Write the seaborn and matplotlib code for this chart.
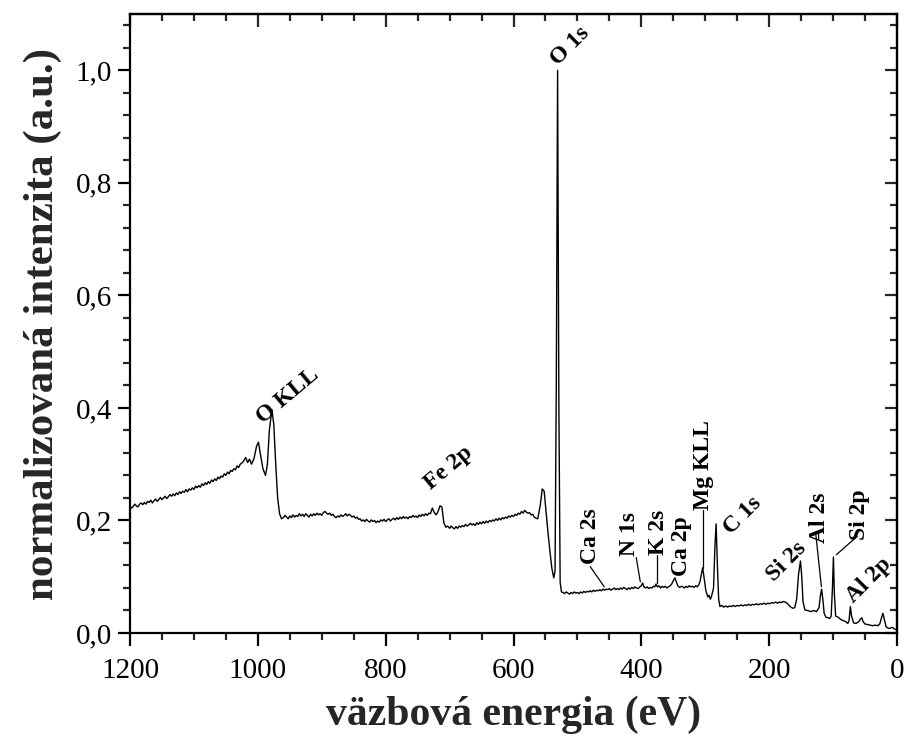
import matplotlib
matplotlib.use("Agg")
import matplotlib.pyplot as plt
import seaborn as sns
import pandas as pd
from matplotlib.ticker import MultipleLocator, FuncFormatter

# ---- data: (binding energy eV, normalized intensity) ----
seg_okll = [
    (1200, 0.226), (1197.5, 0.222), (1195, 0.225), (1192.5, 0.229), (1190, 0.226),
    (1187.5, 0.224), (1185, 0.229), (1182.5, 0.231), (1180, 0.228), (1177.5, 0.232),
    (1175, 0.229), (1172.5, 0.234), (1170, 0.232), (1167.5, 0.236), (1165, 0.231),
    (1162.5, 0.235), (1160, 0.238), (1157.5, 0.234), (1155, 0.237), (1152.5, 0.241),
    (1150, 0.237), (1147.5, 0.240), (1145, 0.243), (1142.5, 0.239), (1140, 0.242),
    (1137.5, 0.246), (1135, 0.243), (1132.5, 0.247), (1130, 0.244), (1127.5, 0.249),
    (1125, 0.246), (1122.5, 0.251), (1120, 0.248), (1117.5, 0.252), (1115, 0.250),
    (1112.5, 0.255), (1110, 0.251), (1107.5, 0.256), (1105, 0.254), (1102.5, 0.258),
    (1100, 0.255), (1097.5, 0.261), (1095, 0.258), (1092.5, 0.262), (1090, 0.259),
    (1087.5, 0.265), (1085, 0.262), (1082.5, 0.267), (1080, 0.264), (1077.5, 0.269),
    (1075, 0.266), (1072.5, 0.272), (1070, 0.269), (1067.5, 0.274), (1065, 0.271),
    (1062.5, 0.277), (1060, 0.274), (1057.5, 0.279), (1055, 0.277), (1052.5, 0.283),
    (1050, 0.280), (1047.5, 0.286), (1045, 0.283), (1042.5, 0.289), (1040, 0.287),
    (1037.5, 0.292), (1035, 0.290), (1032.5, 0.297), (1030, 0.294), (1027.5, 0.300),
    (1025, 0.302), (1022, 0.306), (1019, 0.312), (1016, 0.303), (1013, 0.309),
    (1010, 0.300), (1006, 0.310), (1002, 0.332), (999, 0.339), (996, 0.318),
    (992, 0.292), (988, 0.280), (985, 0.300), (982, 0.360), (978, 0.397),
    (975, 0.370), (972, 0.300), (969, 0.240), (966, 0.212), (963, 0.203),
]
seg_plateau = [
    (960, 0.205), (957.5, 0.209), (955, 0.206), (952.5, 0.203), (950, 0.208),
    (947.5, 0.205), (945, 0.210), (942.5, 0.206), (940, 0.209), (937.5, 0.207),
    (935, 0.212), (932.5, 0.208), (930, 0.211), (927.5, 0.207), (925, 0.212),
    (922.5, 0.209), (920, 0.206), (917.5, 0.211), (915, 0.208), (912.5, 0.212),
    (910, 0.209), (907.5, 0.213), (905, 0.210), (902.5, 0.212), (900, 0.209),
    (897.5, 0.214), (895, 0.216), (892.5, 0.213), (890, 0.211), (887.5, 0.213),
    (885, 0.209), (882.5, 0.211), (880, 0.207), (877.5, 0.205), (875, 0.208),
    (872.5, 0.206), (870, 0.210), (867.5, 0.207), (865, 0.209), (862.5, 0.212),
    (860, 0.208), (857.5, 0.211), (855, 0.209), (852.5, 0.206), (850, 0.208),
    (847.5, 0.204), (845, 0.206), (842.5, 0.202), (840, 0.203), (837.5, 0.199),
    (835, 0.201), (832.5, 0.198), (830, 0.202), (827.5, 0.199), (825, 0.197),
    (822.5, 0.201), (820, 0.198), (817.5, 0.200), (815, 0.196), (812.5, 0.199),
    (810, 0.197), (807.5, 0.201), (805, 0.199), (802.5, 0.202), (800, 0.198),
    (797.5, 0.201), (795, 0.203), (792.5, 0.199), (790, 0.202), (787.5, 0.204),
    (785, 0.201), (782.5, 0.205), (780, 0.202), (777.5, 0.206), (775, 0.203),
    (772.5, 0.207), (770, 0.204), (767.5, 0.206), (765, 0.203), (762.5, 0.207),
    (760, 0.205), (757.5, 0.209), (755, 0.206), (752.5, 0.208), (750, 0.205),
    (747.5, 0.210), (745, 0.207), (742.5, 0.211), (740, 0.208), (737.5, 0.212),
    (735, 0.209), (732.5, 0.213), (730, 0.212), (727, 0.222), (724, 0.214),
    (721, 0.210), (718, 0.216), (715, 0.226), (712, 0.224), (709, 0.196),
    (706, 0.188), (703, 0.190),
]
seg_o1s = [
    (700, 0.186), (697.5, 0.190), (695, 0.187), (692.5, 0.185), (690, 0.189),
    (687.5, 0.186), (685, 0.190), (682.5, 0.188), (680, 0.191), (677.5, 0.189),
    (675, 0.193), (672.5, 0.190), (670, 0.192), (667.5, 0.195), (665, 0.192),
    (662.5, 0.194), (660, 0.191), (657.5, 0.196), (655, 0.193), (652.5, 0.197),
    (650, 0.194), (647.5, 0.198), (645, 0.195), (642.5, 0.199), (640, 0.196),
    (637.5, 0.200), (635, 0.198), (632.5, 0.201), (630, 0.199), (627.5, 0.203),
    (625, 0.200), (622.5, 0.204), (620, 0.201), (617.5, 0.205), (615, 0.203),
    (612.5, 0.206), (610, 0.204), (607.5, 0.208), (605, 0.206), (602.5, 0.209),
    (600, 0.207), (597.5, 0.211), (595, 0.209), (592.5, 0.213), (590, 0.211),
    (587.5, 0.216), (585, 0.213), (582.5, 0.218), (580, 0.215), (577.5, 0.213),
    (575, 0.214), (572.5, 0.210), (570, 0.211), (567.5, 0.206), (565, 0.204),
    (562, 0.203), (558, 0.228), (555, 0.256), (552, 0.252), (549, 0.215),
    (546, 0.178), (543, 0.145), (540, 0.115), (537, 0.098), (535, 0.110),
    (533, 0.450), (531, 1.000), (529, 0.400), (527, 0.090), (525, 0.073),
]
seg_mid = [
    (522.5, 0.072), (520, 0.070), (517.5, 0.073), (515, 0.071), (512.5, 0.069),
    (510, 0.072), (507.5, 0.070), (505, 0.073), (502.5, 0.071), (500, 0.072),
    (497.5, 0.070), (495, 0.073), (492.5, 0.071), (490, 0.074), (487.5, 0.072),
    (485, 0.074), (482.5, 0.073), (480, 0.075), (477.5, 0.073), (475, 0.076),
    (472.5, 0.074), (470, 0.076), (467.5, 0.075), (465, 0.077), (462.5, 0.075),
    (460, 0.078), (457.5, 0.076), (455, 0.078), (452.5, 0.077), (450, 0.079),
    (447.5, 0.076), (445, 0.078), (442.5, 0.080), (440, 0.077), (437.5, 0.079),
    (435, 0.077), (432.5, 0.080), (430, 0.078), (427.5, 0.081), (425, 0.079),
    (422.5, 0.077), (420, 0.080), (417.5, 0.078), (415, 0.081), (412.5, 0.079),
    (410, 0.082), (407.5, 0.080), (405, 0.079), (402.5, 0.082), (400, 0.084),
    (398, 0.089), (396, 0.082), (393.5, 0.080), (391, 0.082), (388.5, 0.079),
    (386, 0.081), (383.5, 0.080), (381, 0.083), (379, 0.082), (377, 0.087),
    (375, 0.082), (372.5, 0.084), (370, 0.080), (367.5, 0.083), (365, 0.081),
    (362.5, 0.083), (360, 0.080), (357.5, 0.082), (355, 0.084), (352.5, 0.087),
    (350, 0.093), (347.5, 0.098), (345, 0.090), (342.5, 0.083), (340, 0.081),
    (337.5, 0.083), (335, 0.082), (332.5, 0.080), (330, 0.083), (327.5, 0.081),
    (325, 0.084), (322.5, 0.082), (320, 0.083), (317.5, 0.081), (315, 0.084),
    (312.5, 0.082), (310, 0.086), (308, 0.092), (306, 0.105), (304, 0.116),
    (302, 0.100), (299, 0.075), (296, 0.064), (294, 0.067), (292, 0.060),
    (290, 0.066), (287, 0.080), (285, 0.150), (283, 0.194), (281, 0.120),
    (279, 0.060),
]
seg_low = [
    (277, 0.047), (274, 0.049), (271, 0.046), (268, 0.048), (265, 0.046),
    (262, 0.048), (259, 0.047), (256, 0.049), (253, 0.047), (250, 0.049),
    (247, 0.048), (244, 0.050), (241, 0.048), (238, 0.050), (235, 0.049),
    (232, 0.051), (229, 0.049), (226, 0.051), (223, 0.050), (220, 0.052),
    (217, 0.050), (214, 0.052), (211, 0.051), (208, 0.053), (205, 0.051),
    (202, 0.053), (199, 0.052), (196, 0.054), (193, 0.053), (190, 0.055),
    (187, 0.053), (184, 0.055), (181, 0.054), (178, 0.056), (175, 0.055),
    (172, 0.053), (169, 0.049), (166, 0.046), (163, 0.044), (160, 0.045),
    (157, 0.060), (154, 0.105), (151, 0.128), (149, 0.100), (147, 0.055),
    (144, 0.041), (140, 0.040), (135, 0.038), (130, 0.040), (126, 0.038),
    (122, 0.045), (120, 0.065), (118, 0.078), (116, 0.060), (114, 0.035),
    (111, 0.028), (108, 0.027), (105, 0.026), (103, 0.030), (101, 0.080),
    (99.5, 0.135), (98, 0.070), (96, 0.030), (92, 0.028), (88, 0.024),
    (84, 0.022), (80, 0.020), (77, 0.017), (75, 0.022), (73, 0.047),
    (71, 0.030), (68, 0.018), (64, 0.017), (60, 0.020), (57, 0.025),
    (55, 0.027), (53, 0.020), (50, 0.016), (46, 0.015), (42, 0.014),
    (38, 0.013), (34, 0.014), (30, 0.013), (27, 0.016), (24, 0.028),
    (22, 0.035), (20, 0.025), (17, 0.011), (13, 0.008), (10, 0.009),
    (7, 0.010), (4, 0.007), (1, 0.006),
]

# peak labels: text, label centre (x, y), rotation
peak_labels = ["O KLL", "O 1s", "Fe 2p", "Ca 2s", "N 1s", "K 2s", "Ca 2p", "Mg KLL",
               "C 1s", "Si 2s", "Al 2s", "Si 2p", "Al 2p"]
label_x = [953, 512, 702, 479, 419, 373, 337, 302, 242, 173, 122, 59, 44]
label_y = [0.422, 1.043, 0.294, 0.172, 0.176, 0.179, 0.154, 0.299, 0.209, 0.126, 0.205, 0.210, 0.094]
label_rot = [40, 45, 40, 90, 90, 90, 90, 90, 45, 45, 90, 90, 45]
# leader lines: (x0, y0) -> (x1, y1)
leader_x0 = [480, 408, 375.5, 304, 127, 62]
leader_y0 = [0.118, 0.134, 0.139, 0.219, 0.175, 0.172]
leader_x1 = [458, 401.6, 375.5, 304, 118.3, 95]
leader_y1 = [0.082, 0.091, 0.089, 0.116, 0.0825, 0.139]

spectrum = seg_okll + seg_plateau + seg_o1s + seg_mid + seg_low
df = pd.DataFrame(spectrum, columns=["E", "I"])

sns.set_theme(style="ticks")
plt.rcParams["font.family"] = ["Liberation Serif", "DejaVu Serif"]

fig = plt.figure(figsize=(9.05, 7.42), dpi=100)
ax = fig.add_axes([130 / 905, 1 - 633 / 742, (897 - 130) / 905, (633 - 14) / 742])

sns.lineplot(data=df, x="E", y="I", sort=False, estimator=None, color="black",
             linewidth=1.0, ax=ax)

ax.set_xlim(1200, 0)
ax.set_ylim(0, 1.1)

ax.xaxis.set_major_locator(MultipleLocator(200))
ax.xaxis.set_minor_locator(MultipleLocator(50))
ax.yaxis.set_major_locator(MultipleLocator(0.2))
ax.yaxis.set_minor_locator(MultipleLocator(0.04))
ax.yaxis.set_major_formatter(FuncFormatter(lambda v, p: f"{v:.1f}".replace(".", ",")))
ax.xaxis.set_major_formatter(FuncFormatter(lambda v, p: f"{v:.0f}"))

for sp in ax.spines.values():
    sp.set_linewidth(1.6)
    sp.set_visible(True)
    sp.set_color("black")

ax.tick_params(axis="x", which="major", pad=9)
ax.tick_params(axis="y", which="major", pad=4)
ax.tick_params(which="major", direction="out", length=9, width=1.6, labelsize=21,
               colors="black")
ax.tick_params(which="minor", direction="out", length=5, width=1.6)

secx = ax.secondary_xaxis("top")
secx.xaxis.set_major_locator(MultipleLocator(200))
secx.xaxis.set_minor_locator(MultipleLocator(50))
secx.tick_params(which="major", direction="in", length=9, width=1.6, labeltop=False)
secx.tick_params(which="minor", direction="in", length=5, width=1.6)
secx.spines["top"].set_linewidth(1.6)

secy = ax.secondary_yaxis("right")
secy.yaxis.set_major_locator(MultipleLocator(0.2))
secy.yaxis.set_minor_locator(MultipleLocator(0.04))
secy.tick_params(which="major", direction="in", length=9, width=1.6, labelright=False)
secy.tick_params(which="minor", direction="in", length=5, width=1.6)
secy.spines["right"].set_linewidth(1.6)

ax.set_xlabel("väzbová energia (eV)", fontsize=30, fontweight="bold", labelpad=8)
ax.set_ylabel("normalizovaná intenzita (a.u.)", fontsize=31, fontweight="bold", labelpad=10)

for t, x, y, r in zip(peak_labels, label_x, label_y, label_rot):
    ax.text(x, y, t, rotation=r, rotation_mode="anchor", ha="center", va="center",
            fontsize=17, fontweight="bold", color="black")

for x0, y0, x1, y1 in zip(leader_x0, leader_y0, leader_x1, leader_y1):
    ax.plot([x0, x1], [y0, y1], color="black", linewidth=0.9)

fig.savefig("out.png", dpi=100)
